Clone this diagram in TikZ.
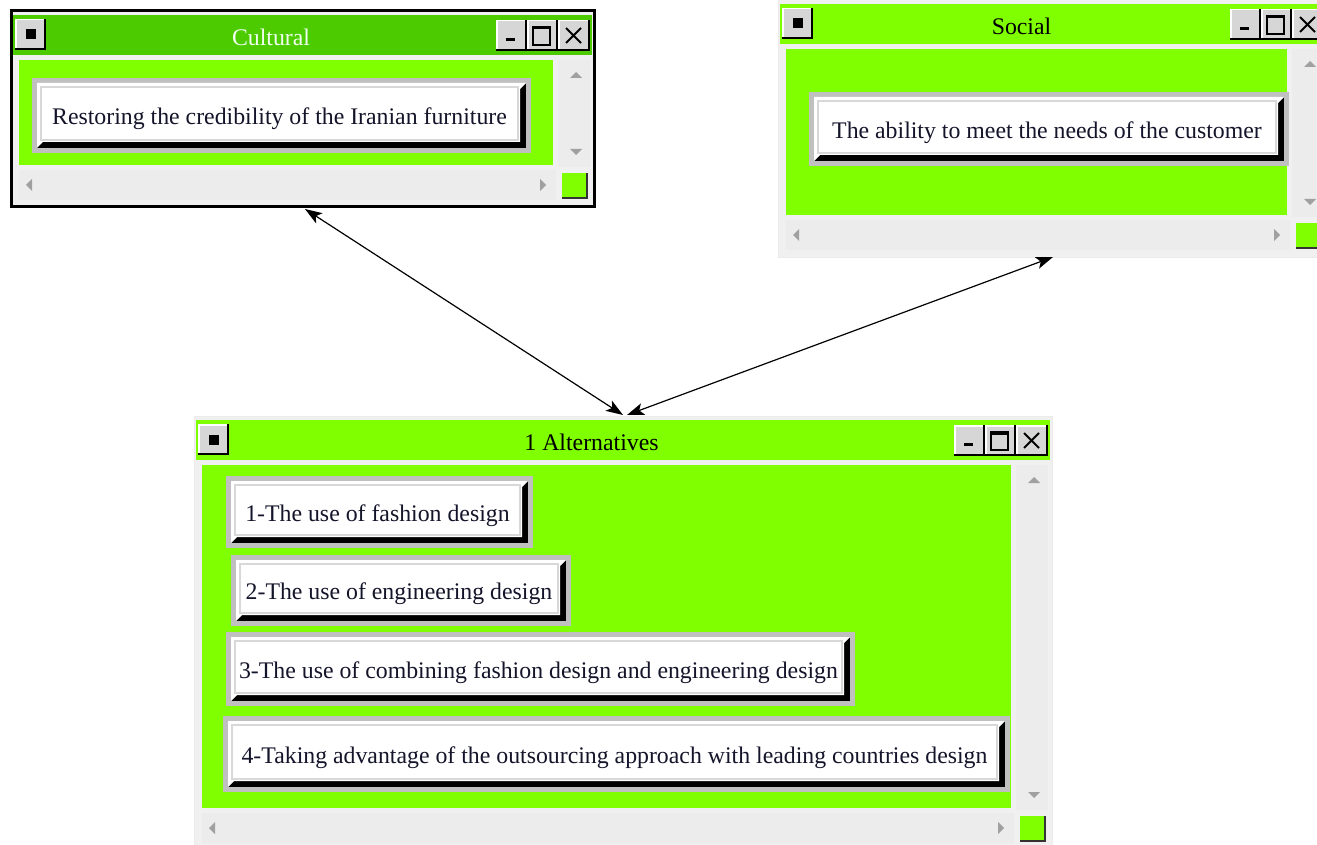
\documentclass[tikz,border=0pt]{standalone}
\usepackage{fontspec}
\setmainfont{Liberation Serif}
\usetikzlibrary{arrows.meta,calc}

\definecolor{paneGreen}{HTML}{80FF00}
\definecolor{activeGreen}{HTML}{4CCC00}
\definecolor{chrome}{HTML}{F0F0F0}
\definecolor{track}{HTML}{ECECEC}
\definecolor{arrowGray}{HTML}{A0A0A0}
\definecolor{frameGray}{HTML}{C0C0C0}
\definecolor{bevelGray}{HTML}{D8D8D8}
\definecolor{btnFace}{HTML}{D6D6D6}
\definecolor{inkNavy}{HTML}{14142A}

\tikzset{
  labelfont/.style={font=\fontsize{23.8}{28}\selectfont},
  winframe/.style={fill=chrome, inner sep=0pt, outer sep=0pt, anchor=north west},
  activeframe/.style={draw=black, line width=3pt},
  idleframe/.style={draw=black!8, line width=1pt},
  wintitle/.style={labelfont, inner sep=0pt},
  optlabel/.style={labelfont, text=inkNavy, inner sep=0pt},
  linktip/.style={Stealth[length=17pt,width=12pt,inset=4pt]},
  link/.style={{Stealth[length=17pt,width=12pt,inset=4pt]}-{Stealth[length=17pt,width=12pt,inset=4pt]}, line width=1.2pt},
}

% raised caption button: x1 y1 x2 y2
\newcommand\capbtn[4]{%
  \fill[black] ({#1},{#2}) rectangle ({#3},{#4});
  \fill[white] ({#1},{#2}) rectangle ({#3-2},{#4-2});
  \fill[btnFace] ({#1+1.5},{#2+1.5}) rectangle ({#3-2},{#4-2});
}

% window chrome: name, left, top, right, bottom, title bar colour, title colour, title, frame style
\newcommand\appwindow[9]{%
  \node[winframe, #9, minimum width={(#4-#2)*1pt}, minimum height={(#5-#3)*1pt}] (#1) at (#2,#3) {};
  % title bar
  \fill[#6] ({#2+2},{#3+4}) rectangle ({#4-2},{#3+44});
  % client pane
  \fill[paneGreen] ({#2+8},{#3+49}) rectangle ({#4-41},{#5-42});
  % scroll bars
  \fill[track] ({#4-36},{#3+49}) rectangle ({#4-4},{#5-40});
  \fill[track] ({#2+8},{#5-37}) rectangle ({#4-38},{#5-7});
  \fill[arrowGray] ({#4-24},{#3+67}) -- ({#4-12},{#3+67}) -- ({#4-18},{#3+61}) -- cycle;
  \fill[arrowGray] ({#4-24},{#5-58}) -- ({#4-12},{#5-58}) -- ({#4-18},{#5-52}) -- cycle;
  \fill[arrowGray] ({#2+21},{#5-28}) -- ({#2+21},{#5-16}) -- ({#2+15},{#5-22}) -- cycle;
  \fill[arrowGray] ({#4-54},{#5-28}) -- ({#4-54},{#5-16}) -- ({#4-48},{#5-22}) -- cycle;
  % size grip
  \fill[black!80] ({#4-32},{#5-34}) rectangle ({#4-6},{#5-8});
  \fill[paneGreen] ({#4-32},{#5-34}) rectangle ({#4-8},{#5-10});
  % system menu button
  \capbtn{#2+4}{#3+8}{#2+35}{#3+39}
  \fill[black] ({#2+14.5},{#3+18.5}) rectangle ({#2+24.5},{#3+28.5});
  % minimise
  \capbtn{#4-98}{#3+9}{#4-67}{#3+40}
  \fill[black] ({#4-88},{#3+27}) rectangle ({#4-79},{#3+30});
  % maximise
  \capbtn{#4-67}{#3+9}{#4-36}{#3+40}
  \draw[black, line width=1.5pt] ({#4-61},{#3+16}) rectangle ({#4-44},{#3+34});
  \fill[black] ({#4-61.75},{#3+15.25}) rectangle ({#4-43.25},{#3+18.5});
  % close
  \capbtn{#4-36}{#3+9}{#4-4}{#3+40}
  \draw[black, line width=2pt] ({#4-28},{#3+17}) -- ({#4-13},{#3+32})
                               ({#4-28},{#3+32}) -- ({#4-13},{#3+17});
  % caption
  \node[wintitle, text=#7] (#1-title) at ({(#2+#4)/2-31.5},{#3+26}) {#8};
}

% bevelled option box: name, x1, y1, x2, y2, text
\newcommand\optbox[6]{%
  \fill[frameGray] (#2,#3) rectangle (#4,#5);
  \fill[black] ({#2+5},{#3+5}) rectangle ({#4-5},{#5-5});
  \fill[white] ({#2+5},{#3+5}) -- ({#4-5},{#3+5}) -- ({#4-11},{#3+11})
               -- ({#4-11},{#5-11}) -- ({#2+11},{#5-11}) -- ({#2+5},{#5-5}) -- cycle;
  \draw[bevelGray, line width=2.5pt] ({#2+9},{#3+9}) rectangle ({#4-13},{#5-13});
  \node[optlabel] (#1) at ({(#2+#4)/2-2},{(#3+#5)/2+3.5}) {#6};
}

\begin{document}
\begin{tikzpicture}[x=1pt, y=-1pt]
  \fill[white] (0,0) rectangle (1317,845);
  \useasboundingbox (0,0) rectangle (1317,845);

  % Cultural (active window)
  \appwindow{cult}{11}{11}{594}{207}{activeGreen}{green!6}{Cultural}{activeframe}
  \optbox{cultopt}{32}{78}{531}{153}{Restoring the credibility of the Iranian furniture}

  % Social
  \appwindow{soc}{778}{0}{1328}{257}{paneGreen}{black}{Social}{idleframe}
  \optbox{socopt}{809}{92}{1289}{166}{The ability to meet the needs of the customer}

  % Alternatives
  \appwindow{alt}{194}{416}{1052}{850}{paneGreen}{black}{1 Alternatives}{idleframe}
  \optbox{alt1}{226}{476}{533}{548}{1-The use of fashion design}
  \optbox{alt2}{231}{555}{571}{626}{2-The use of engineering design}
  \optbox{alt3}{226}{632}{855}{706}{3-The use of combining fashion design and engineering design}
  \optbox{alt4}{223}{716}{1010}{792}{4-Taking advantage of the outsourcing approach with leading countries design}

  % links between windows
  \draw[link] ([xshift=2.5pt,yshift=-2pt]cult.south) -- ([xshift=0pt,yshift=1pt]alt.north);
  \draw[link] (soc.south) -- ([xshift=4pt,yshift=1pt]alt.north);
\end{tikzpicture}
\end{document}
